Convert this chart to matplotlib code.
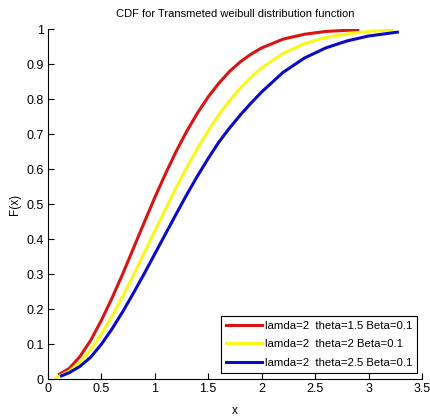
import matplotlib
matplotlib.use('Agg')
import matplotlib.pyplot as plt
from matplotlib import rcParams

rcParams['font.family'] = ['Liberation Sans', 'DejaVu Sans']
rcParams['font.size'] = 9

# CDF curves, one per theta value
x_red = [0.11, 0.2, 0.3, 0.4, 0.5, 0.6, 0.7, 0.8, 0.9, 1.0, 1.1, 1.2, 1.3, 1.4,
         1.5, 1.6, 1.7, 1.8, 1.9, 2.0, 2.2, 2.4, 2.6, 2.9]
F_red = [0.014, 0.03, 0.064, 0.11, 0.167, 0.231, 0.3, 0.373, 0.446, 0.518, 0.586, 0.65,
         0.708, 0.76, 0.806, 0.845, 0.879, 0.906, 0.928, 0.946, 0.971, 0.985, 0.993, 0.998]

x_yellow = [0.075, 0.2, 0.3, 0.4, 0.5, 0.6, 0.7, 0.8, 0.9, 1.0, 1.1, 1.2, 1.3, 1.4,
            1.5, 1.6, 1.7, 1.8, 1.9, 2.0, 2.2, 2.4, 2.6, 2.8, 3.0, 3.215]
F_yellow = [0.003, 0.022, 0.048, 0.084, 0.128, 0.179, 0.236, 0.296, 0.359, 0.422, 0.485,
            0.546, 0.604, 0.659, 0.709, 0.755, 0.795, 0.831, 0.862, 0.889, 0.93, 0.958,
            0.976, 0.986, 0.993, 0.997]

x_blue = [0.128, 0.2, 0.3, 0.4, 0.5, 0.6, 0.7, 0.8, 0.9, 1.0, 1.1, 1.2, 1.3, 1.4,
          1.5, 1.6, 1.7, 1.8, 1.9, 2.0, 2.2, 2.4, 2.6, 2.8, 3.0, 3.27]
F_blue = [0.009, 0.018, 0.036, 0.062, 0.099, 0.143, 0.192, 0.245, 0.3, 0.357, 0.414,
          0.471, 0.527, 0.58, 0.63, 0.677, 0.717, 0.754, 0.788, 0.82, 0.876, 0.917,
          0.946, 0.966, 0.98, 0.991]

labels = ['lamda=2  theta=1.5 Beta=0.1',
          'lamda=2  theta=2 Beta=0.1',
          'lamda=2  theta=2.5 Beta=0.1']
xticks = [0, 0.5, 1, 1.5, 2, 2.5, 3, 3.5]
yticks = [0, 0.1, 0.2, 0.3, 0.4, 0.5, 0.6, 0.7, 0.8, 0.9, 1]

fig = plt.figure(figsize=(4.31, 4.18), dpi=100)
ax = fig.add_axes([0.111, 0.0933, 0.868, 0.8373])

ax.plot(x_red, F_red, color='#d81414', lw=2.2, label=labels[0])
ax.plot(x_yellow, F_yellow, color='#f8f81a', lw=2.2, label=labels[1])
ax.plot(x_blue, F_blue, color='#0a0ac8', lw=2.2, label=labels[2])

ax.set_xlim(0, 3.5)
ax.set_ylim(0, 1)
ax.set_xticks(xticks)
ax.set_xticklabels(['%g' % t for t in xticks])
ax.set_yticks(yticks)
ax.set_yticklabels(['%g' % t for t in yticks])
ax.tick_params(direction='in', length=4, width=0.8, pad=3, labelsize=9)
ax.spines['top'].set_visible(False)
ax.spines['right'].set_visible(False)

ax.set_title('CDF for Transmeted weibull distribution function', fontsize=8, pad=9)
ax.set_xlabel('x', fontsize=8.5, labelpad=7)
ax.set_ylabel('F(x)', fontsize=8.5, labelpad=4)

leg = ax.legend(loc='lower right', bbox_to_anchor=(0.987, 0.017), borderaxespad=0,
                fancybox=False, edgecolor='black', framealpha=1, fontsize=8.2,
                handlelength=3.2, handletextpad=0.2, labelspacing=0.75,
                borderpad=0.45)
leg.get_frame().set_linewidth(0.8)

fig.savefig('out.png', dpi=100)
